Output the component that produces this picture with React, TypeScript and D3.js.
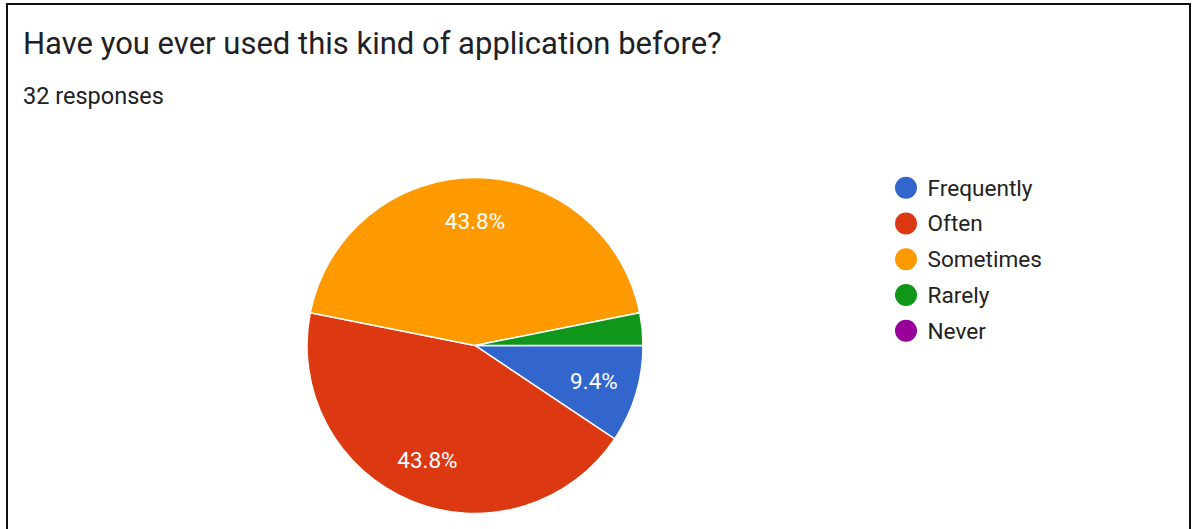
import React from "react";
import * as d3 from "d3";

const categories = ["Frequently", "Often", "Sometimes", "Rarely", "Never"];
const counts = [3, 14, 14, 1, 0];
const colors = ["#3366cc", "#dc3912", "#ff9900", "#109618", "#990099"];
const title = "Have you ever used this kind of application before?";
const subtitle = "32 responses";

const W = 1193;
const H = 529;
const cx = 475;
const cy = 345.5;
const R = 168;

export default function App() {
  const total = d3.sum(counts);
  const pie = d3
    .pie<number>()
    .sort(null)
    .value((d) => d)
    .startAngle(Math.PI / 2)
    .endAngle(Math.PI / 2 + 2 * Math.PI);
  const arcs = pie(counts);
  const arc = d3.arc<d3.PieArcDatum<number>>().innerRadius(0).outerRadius(R);
  const labelArc = d3
    .arc<d3.PieArcDatum<number>>()
    .innerRadius(R * 0.74)
    .outerRadius(R * 0.74);
  const fmt = d3.format(".1%");
  const font = "Roboto, Arial, sans-serif";

  return (
    <svg
      width={W}
      height={H}
      style={{ position: "absolute", left: 0, top: 0, display: "block", background: "#fff" }}
    >
      <rect x={7} y={4} width={1183} height={560} fill="#fff" stroke="#111" strokeWidth={2} />
      <text x={23} y={54} fontFamily={font} fontSize={31} fill="#202124">
        {title}
      </text>
      <text x={23} y={104} fontFamily={font} fontSize={23.5} fill="#202124">
        {subtitle}
      </text>
      <g transform={`translate(${cx},${cy})`}>
        {arcs.map((a, i) =>
          a.value > 0 ? (
            <path key={i} d={arc(a) || ""} fill={colors[i]} stroke="#fff" strokeWidth={1.5} />
          ) : null
        )}
        {arcs.map((a, i) => {
          const frac = a.value / total;
          if (frac < 0.05) return null;
          const [x, y] = labelArc.centroid(a);
          return (
            <text
              key={"l" + i}
              x={x}
              y={y}
              dy="0.35em"
              textAnchor="middle"
              fontFamily={font}
              fontSize={22.5}
              fill="#fff"
            >
              {fmt(frac)}
            </text>
          );
        })}
      </g>
      <g transform="translate(906,187.7)">
        {categories.map((c, i) => (
          <g key={c} transform={`translate(0,${i * 35.75})`}>
            <circle r={11} fill={colors[i]} />
            <text x={21.5} y={0} dy="0.35em" fontFamily={font} fontSize={22.6} fill="#222">
              {c}
            </text>
          </g>
        ))}
      </g>
    </svg>
  );
}
